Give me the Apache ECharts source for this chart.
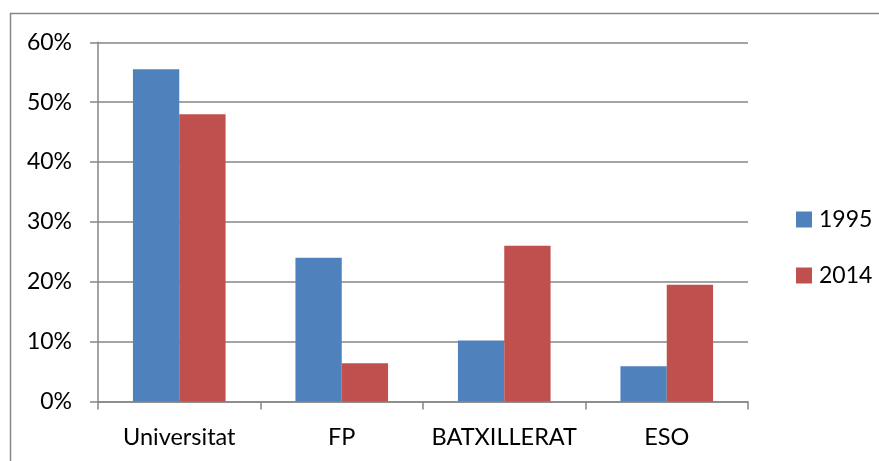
<!DOCTYPE html>
<html><head><meta charset="utf-8">
<script src="https://cdn.jsdelivr.net/npm/echarts@6/dist/echarts.min.js"></script>
<style>html,body{margin:0;padding:0;background:#fff}#c{width:879px;height:461px}</style>
</head><body><div id="c"></div>
<script>
const categories = ['Universitat', 'FP', 'BATXILLERAT', 'ESO'];
const seriesNames = ['1995', '2014'];
const values1995 = [55.5, 24.0, 10.2, 5.9];
const values2014 = [48.0, 6.4, 26.0, 19.5];
const yTicks = [0, 10, 20, 30, 40, 50, 60];

const font = 'Lato, "Open Sans", sans-serif';
const chart = echarts.init(document.getElementById('c'));
chart.setOption({
  animation: false,
  graphic: [{
    type: 'rect', shape: { x: 10.5, y: 13.5, width: 900, height: 500 },
    style: { fill: 'none', stroke: '#868686', lineWidth: 1.5 }, silent: true, z: -1
  }],
  grid: { left: 98, right: 131, top: 42.3, bottom: 59.5, containLabel: false },
  legend: {
    orient: 'vertical', left: 791, top: 203, itemWidth: 16, itemHeight: 16, itemGap: 33,
    icon: 'rect', data: seriesNames,
    textStyle: { fontFamily: font, fontSize: 23, color: '#000', padding: [0, 0, 0, 2] }
  },
  xAxis: {
    type: 'category', data: categories,
    axisLine: { lineStyle: { color: '#868686', width: 1.5 } },
    axisTick: { show: true, interval: 0, length: 8, inside: false, lineStyle: { color: '#868686', width: 1.5 } },
    axisLabel: { interval: 0, hideOverlap: false, fontFamily: font, fontSize: 23.5, color: '#000', margin: 24 }
  },
  yAxis: {
    type: 'value', min: 0, max: 60, interval: 10,
    axisLine: { show: true, lineStyle: { color: '#868686', width: 1.5 } },
    axisTick: { show: true, length: 8, lineStyle: { color: '#868686', width: 1.5 } },
    splitLine: { lineStyle: { color: '#868686', width: 1.5 } },
    axisLabel: {
      fontFamily: font, fontSize: 23, color: '#000', margin: 26,
      formatter: v => yTicks.includes(v) ? v + '%' : ''
    }
  },
  series: [
    { name: seriesNames[0], type: 'bar', data: values1995, itemStyle: { color: '#4F81BD' }, barGap: '0%', barCategoryGap: '43%' },
    { name: seriesNames[1], type: 'bar', data: values2014, itemStyle: { color: '#C0504D' }, barGap: '0%', barCategoryGap: '43%' }
  ]
});
</script></body></html>
